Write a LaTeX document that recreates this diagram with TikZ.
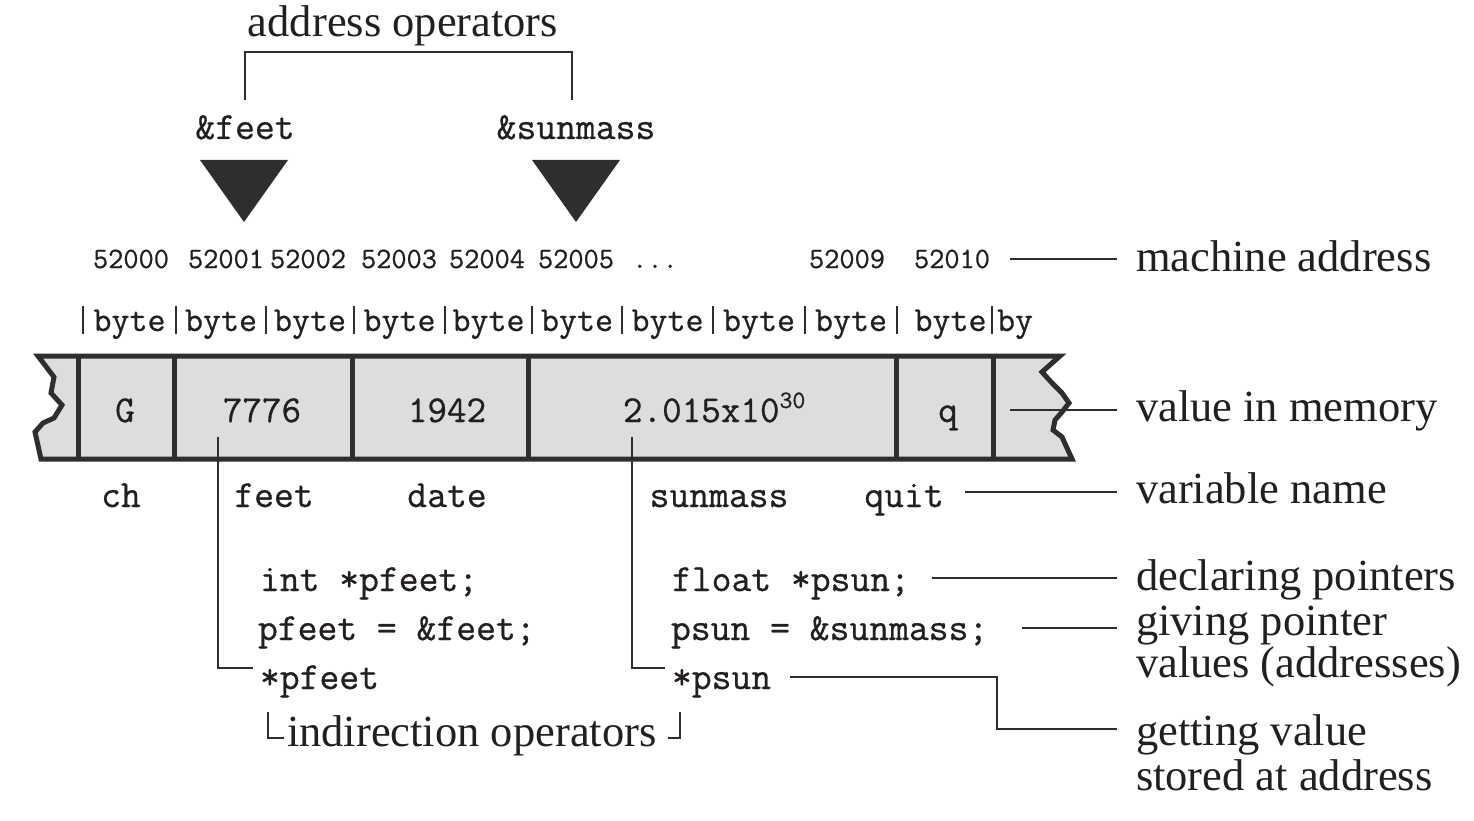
\documentclass[tikz,border=0pt]{standalone}
\usepackage{fontspec}
\setmainfont{Liberation Serif}
\newfontfamily\mono[FakeBold=0.7]{Latin Modern Mono}
\definecolor{ink}{HTML}{231F20}
\definecolor{strip}{HTML}{DCDDDF}
\definecolor{edge}{HTML}{2E2E2E}
\begin{document}
\begin{tikzpicture}[x=1pt,y=-1pt,
  every node/.style={inner sep=0pt,outer sep=0pt,text=ink},
  serif/.style={font=\fontsize{44.5}{44}\selectfont},
  code/.style={font=\mono\fontsize{38.5}{38}\selectfont},
  addr/.style={font=\mono\fontsize{29.5}{30}\selectfont},
  bytetxt/.style={font=\mono\fontsize{35}{35}\selectfont},
  cellval/.style={font=\mono\fontsize{38}{38}\selectfont},
  leader/.style={draw=edge,line width=2pt},
  pipe/.style={draw=edge,line width=1.8pt},
  cellline/.style={draw=edge,line width=5pt},
  tri/.style={fill=edge,draw=none}]
\useasboundingbox (0,0) rectangle (1474,821);

% ---------- address operators ----------
\node[serif,anchor=base] (addrop) at (403,37) {address operators};
\node[code,anchor=base] (afeet) at (245,139) {\&feet};
\node[code,anchor=base] (asun) at (576,139) {\&sunmass};
\coordinate (bl) at (245,100);
\coordinate (br) at (572,100);
\draw[leader] (bl) -- (245,52) -- (572,52) -- (br);
\fill[tri] (200,160) -- (288,160) -- (244,222) -- cycle;
\fill[tri] (532,160) -- (620,160) -- (576,222) -- cycle;

% ---------- machine addresses ----------
\foreach \x/\t/\n in {131/52000/a0,226/52001/a1,308/52002/a2,399/52003/a3,487/52004/a4,576/52005/a5,655/{...}/adots,847/52009/a9,952/52010/a10}
  \node[addr,anchor=base] (\n) at (\x,268) {\t};
\node[serif,anchor=base west] (machine) at (1136,271) {machine address};
\coordinate (lm) at (1010,259);
\draw[leader] (lm) -- (1117,259);

% ---------- byte row ----------
\foreach \x in {83,176,266,354,445,532,622,713,805,897,992}
  \draw[pipe] (\x,306) -- (\x,334);
\foreach \a/\b [count=\i] in {83/176,176/266,266/354,354/445,445/532,532/622,622/713,713/805,805/897,897/992}
  \node[bytetxt,anchor=base] (b\i) at ({(\a+\b)/2+(\i==10)*6},331) {byte};
\node[bytetxt,anchor=base west] (bby) at (997,331) {by};

% ---------- memory strip ----------
\filldraw[fill=strip,draw=edge,line width=5pt,line join=miter,miter limit=10]
  (38,356) -- (1060,356) -- (1042,372) -- (1052,383) -- (1062,393) -- (1069,403)
  -- (1062,412) -- (1055,420) -- (1053,430) -- (1062,437) -- (1072,459)
  -- (41,459) -- (35,432) -- (43,423) -- (54,418) -- (62,405) -- (51,393)
  -- (54,377) -- cycle;
\foreach \x in {78,174,352,528,896,993}
  \draw[cellline] (\x,356) -- (\x,459);

\node[cellval,anchor=base] (vG) at (125,422) {G};
\node[cellval,anchor=base] (vfeet) at (262,422) {7776};
\node[cellval,anchor=base] (vdate) at (447,422) {1942};
\node[cellval,anchor=base west] (vsun) at (623,422) {2.015x10\raisebox{14pt}{\fontsize{25}{25}\selectfont 30}};
\node[cellval,anchor=base] (vq) at (948,422) {q};
\node[serif,anchor=base west] (valmem) at (1136,421) {value in memory};
\coordinate (lv) at (1010,410);
\draw[leader] (lv) -- (1117,410);

% ---------- variable names ----------
\node[code,anchor=base] (nch) at (121,507) {ch};
\node[code,anchor=base] (nfeet) at (274,507) {feet};
\node[code,anchor=base] (ndate) at (447,507) {date};
\node[code,anchor=base] (nsun) at (719,507) {sunmass};
\node[code,anchor=base] (nquit) at (904,507) {quit};
\node[serif,anchor=base west] (varname) at (1136,503) {variable name};
\draw[leader] (965,492) -- (1117,492);

% ---------- code ----------
\node[code,anchor=base west] (c1) at (260,591) {int *pfeet;};
\node[code,anchor=base west] (c2) at (258,640) {pfeet = \&feet;};
\node[code,anchor=base west] (c3) at (260,689) {*pfeet};
\node[code,anchor=base west] (d1) at (672,591) {float *psun;};
\node[code,anchor=base west] (d2) at (671,640) {psun = \&sunmass;};
\node[code,anchor=base west] (d3) at (672,689) {*psun};

\coordinate (pf) at (218,437);
\coordinate (ps) at (632,437);
\draw[leader] (pf) -- (218,668) -- (253,668);
\draw[leader] (ps) -- (632,668) -- (665,668);

% ---------- right labels ----------
\node[serif,anchor=base west] (decl) at (1136,590) {declaring pointers};
\node[serif,anchor=base west] (give1) at (1136,635) {giving pointer};
\node[serif,anchor=base west] (give2) at (1136,677) {values (addresses)};
\node[serif,anchor=base west] (get1) at (1136,745) {getting value};
\node[serif,anchor=base west] (get2) at (1136,790) {stored at address};
\draw[leader] (932,578) -- (1117,578);
\draw[leader] (1022,628) -- (1117,628);
\draw[leader] (790,677) -- (997,677) -- (997,729) -- (1117,729);

% ---------- indirection operators ----------
\node[serif,anchor=base west] (indir) at (287,746) {indirection operators};
\draw[leader,line width=1.6pt] (268,712) -- (268,738) -- (284,738);
\draw[leader,line width=1.6pt] (668,738) -- (680,738) -- (680,712);
\end{tikzpicture}
\end{document}
